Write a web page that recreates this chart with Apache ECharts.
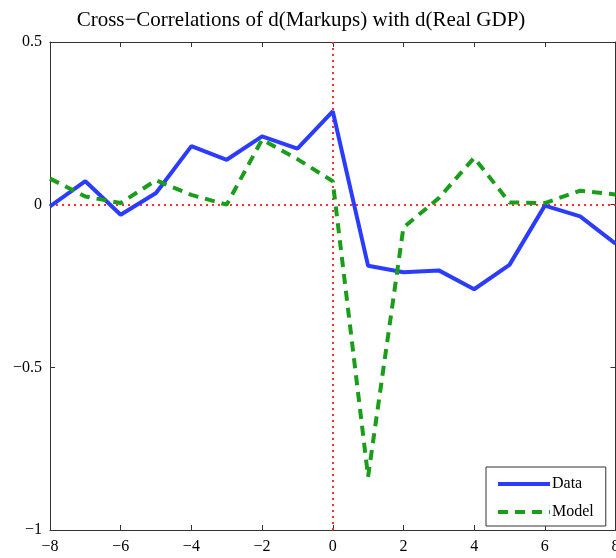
<!DOCTYPE html>
<html>
<head>
<meta charset="utf-8">
<script src="https://cdn.jsdelivr.net/npm/echarts@6/dist/echarts.min.js"></script>
<style>
html,body{margin:0;padding:0;background:#fff;}
#chart{width:616px;height:558px;}
</style>
</head>
<body>
<div id="chart"></div>
<script>
var lags = [-8,-7,-6,-5,-4,-3,-2,-1,0,1,2,3,4,5,6,7,8];
var dataSeries = [-0.005,0.072,-0.031,0.036,0.18,0.138,0.21,0.172,0.287,-0.188,-0.208,-0.202,-0.26,-0.185,-0.003,-0.036,-0.12];
var modelSeries = [0.08,0.025,0.005,0.075,0.03,0.0,0.2,0.14,0.072,-0.836,-0.07,0.02,0.144,0.007,0.005,0.043,0.031];
var xTicks = [-8,-6,-4,-2,0,2,4,6,8];
var yTicks = [-1,-0.5,0,0.5];
var titleText = 'Cross\u2212Correlations of d(Markups) with d(Real GDP)';

function pairs(xs, ys){ return xs.map(function(x,i){ return [x, ys[i]]; }); }
function fmt(v){ return String(v).replace('-', '\u2212'); }

var serif = 'Liberation Serif';
var axisColor = '#333';
var chart = echarts.init(document.getElementById('chart'), null, {renderer:'canvas'});
chart.setOption({
  animation: false,
  backgroundColor: '#fff',
  title: {
    text: titleText,
    left: 296, top: 5, textAlign: 'center',
    textStyle: {fontFamily: serif, fontSize: 21, fontWeight: 'normal', color: '#000'}
  },
  grid: {left: 50, right: 0.5, top: 42, bottom: 28, containLabel: false, outerBoundsMode: 'none'},
  legend: {
    left: 486, top: 467,
    orient: 'vertical',
    backgroundColor: '#fff',
    borderColor: '#333', borderWidth: 1,
    padding: [9, 12, 6, 10],
    itemGap: 12,
    itemWidth: 52, itemHeight: 14,
    itemStyle: {opacity: 0},
    lineStyle: {width: 4},
    textStyle: {fontFamily: serif, fontSize: 16, color: '#000', padding: [0,0,0,-3]},
    data: [{name:'Data'}, {name:'Model'}]
  },
  xAxis: [{
    type: 'value', min: -8, max: 8, interval: 2, position: 'bottom',
    axisLine: {show: true, onZero: false, lineStyle: {color: axisColor, width: 1}},
    axisTick: {show: true, inside: true, length: 5, lineStyle: {color: axisColor}},
    axisLabel: {fontFamily: serif, fontSize: 16, color: '#000', margin: 9, formatter: fmt},
    splitLine: {show: false}
  },{
    type: 'value', min: -8, max: 8, interval: 2, position: 'top',
    axisLine: {show: true, onZero: false, lineStyle: {color: axisColor, width: 1}},
    axisTick: {show: true, inside: true, length: 5, lineStyle: {color: axisColor}},
    axisLabel: {show: false},
    splitLine: {show: false}
  }],
  yAxis: [{
    type: 'value', min: -1, max: 0.5, interval: 0.5, position: 'left',
    axisLine: {show: true, onZero: false, lineStyle: {color: axisColor, width: 1}},
    axisTick: {show: true, inside: true, length: 5, lineStyle: {color: axisColor}},
    axisLabel: {fontFamily: serif, fontSize: 16, color: '#000', margin: 8, formatter: fmt},
    splitLine: {show: false}
  },{
    type: 'value', min: -1, max: 0.5, interval: 0.5, position: 'right',
    axisLine: {show: true, onZero: false, lineStyle: {color: axisColor, width: 1}},
    axisTick: {show: true, inside: true, length: 5, lineStyle: {color: axisColor}},
    axisLabel: {show: false},
    splitLine: {show: false}
  }],
  series: [{
    name: 'Data', type: 'line', data: pairs(lags, dataSeries),
    symbol: 'none', z: 3,
    lineStyle: {color: '#2b3cff', width: 4},
    itemStyle: {color: '#2b3cff'},
    markLine: {
      silent: true, symbol: 'none', z: 1,
      label: {show: false},
      lineStyle: {color: '#ff3030', width: 2, type: [2, 4]},
      data: [{xAxis: 0}, {yAxis: 0}]
    }
  },{
    name: 'Model', type: 'line', data: pairs(lags, modelSeries),
    symbol: 'none', z: 4,
    lineStyle: {color: '#1a9e1a', width: 4, type: [10, 7]},
    itemStyle: {color: '#1a9e1a'}
  }]
});
</script>
</body>
</html>
